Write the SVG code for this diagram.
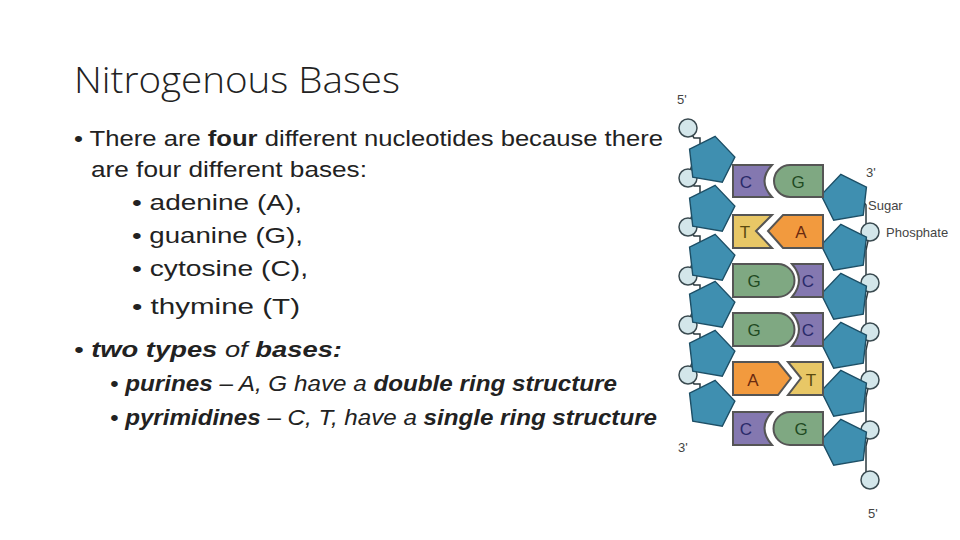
<svg xmlns="http://www.w3.org/2000/svg" width="960" height="540" viewBox="0 0 960 540">
<style>
.t{font-family:"Liberation Sans",Arial,sans-serif;fill:#222;font-size:22px}
.ttl{font-family:"Open Sans","Liberation Sans",sans-serif;font-weight:300;fill:#222;font-size:36px}
.b{font-weight:bold}
.i{font-style:italic}
.sug{fill:#3f8fb0;stroke:#1d4f66;stroke-width:1.4}
.ph{fill:#d3e6ea;stroke:#3a4a50;stroke-width:1.5}
.bb{fill:none;stroke:#2d3a3f;stroke-width:1.5}
.base{stroke:#555;stroke-width:2}
.lb{font-family:"Liberation Sans",Arial,sans-serif;font-size:17px;text-anchor:middle}
.sm{font-family:"Liberation Sans",Arial,sans-serif;font-size:13px;fill:#444}
</style>
<defs>
<polygon id="pent" points="0,-24 23,-7 15,20 -15,20 -23,-7"/>
</defs>
<rect width="960" height="540" fill="#fff"/>
<text class="ttl" x="74" y="93" textLength="326" lengthAdjust="spacingAndGlyphs">Nitrogenous Bases</text>
<text class="t" x="74" y="146" textLength="589" lengthAdjust="spacingAndGlyphs">• There are <tspan class="b">four</tspan> different nucleotides because there</text>
<text class="t" x="91" y="177" textLength="276" lengthAdjust="spacingAndGlyphs">are four different bases:</text>
<text class="t" x="132" y="210" textLength="170" lengthAdjust="spacingAndGlyphs">• adenine (A),</text>
<text class="t" x="132" y="243" textLength="171" lengthAdjust="spacingAndGlyphs">• guanine (G),</text>
<text class="t" x="132" y="276" textLength="176" lengthAdjust="spacingAndGlyphs">• cytosine (C),</text>
<text class="t" x="132" y="314" textLength="168" lengthAdjust="spacingAndGlyphs">• thymine  (T)</text>
<text class="t i" x="74" y="357" textLength="268" lengthAdjust="spacingAndGlyphs">• <tspan class="b">two types</tspan> of <tspan class="b">bases:</tspan></text>
<text class="t i" x="110" y="391" textLength="507" lengthAdjust="spacingAndGlyphs">• <tspan class="b">purines</tspan> – A, G have a <tspan class="b">double ring structure</tspan></text>
<text class="t i" x="110" y="425" textLength="547" lengthAdjust="spacingAndGlyphs">• <tspan class="b">pyrimidines</tspan> – C, T, have a <tspan class="b">single ring structure</tspan></text>

<g id="dna">
<g id="backbone">
<polyline class="bb" points="688,128 694,138 700,138 700,144 688,176 694,186 700,186 700,194 688,226 694,236 700,236 700,242 688,275 694,285 700,285 700,290 688,324 694,334 700,334 700,340 688,374 694,384 700,384 700,390"/>
<polyline class="bb" points="858,196 862,200 866,205 866,232 870,232 866,250 866,283 870,283 866,300 866,332 870,332 866,350 866,380 870,380 866,397 866,430 870,430 866,446 866,478 870,480"/>
</g>
<g id="left-strand">
<circle class="ph" cx="688" cy="128" r="9"/>
<circle class="ph" cx="688" cy="178" r="9"/>
<circle class="ph" cx="688" cy="227" r="9"/>
<circle class="ph" cx="688" cy="276" r="9"/>
<circle class="ph" cx="688" cy="325" r="9"/>
<circle class="ph" cx="688" cy="375" r="9"/>
<use href="#pent" class="sug" transform="translate(711,160) rotate(10)"/>
<use href="#pent" class="sug" transform="translate(711,209) rotate(10)"/>
<use href="#pent" class="sug" transform="translate(711,258) rotate(10)"/>
<use href="#pent" class="sug" transform="translate(711,305) rotate(10)"/>
<use href="#pent" class="sug" transform="translate(711,354) rotate(10)"/>
<use href="#pent" class="sug" transform="translate(711,404) rotate(10)"/>
</g>
<g id="right-strand">
<circle class="ph" cx="870" cy="232" r="9"/>
<circle class="ph" cx="870" cy="283" r="9"/>
<circle class="ph" cx="870" cy="332" r="9"/>
<circle class="ph" cx="870" cy="380" r="9"/>
<circle class="ph" cx="870" cy="430" r="9"/>
<circle class="ph" cx="870" cy="480" r="9"/>
<use href="#pent" class="sug" transform="translate(845,198) rotate(-10)"/>
<use href="#pent" class="sug" transform="translate(845,248) rotate(-10)"/>
<use href="#pent" class="sug" transform="translate(845,297) rotate(-10)"/>
<use href="#pent" class="sug" transform="translate(845,346) rotate(-10)"/>
<use href="#pent" class="sug" transform="translate(845,394) rotate(-10)"/>
<use href="#pent" class="sug" transform="translate(845,443) rotate(-10)"/>
</g>
<g id="pair-CG1">
<path class="base" fill="#8478b0" d="M733,165 H772 Q757,181 772,197 H733 Z"/>
<path class="base" fill="#7fa882" d="M823,165 V197 H790 A16,16 0 0 1 790,165 Z"/>
<text class="lb" x="746" y="188" fill="#2a2a6a">C</text>
<text class="lb" x="798" y="188" fill="#1f4a22">G</text>
</g>
<g id="pair-TA">
<path class="base" fill="#e8c766" d="M733,215 H772 L756,231 L772,248 H733 Z"/>
<path class="base" fill="#f29a3e" d="M823,215 V248 H783 L768,231 L783,215 Z"/>
<text class="lb" x="745" y="238" fill="#5a4a10">T</text>
<text class="lb" x="801" y="238" fill="#6a2a10">A</text>
</g>
<g id="pair-GC1">
<path class="base" fill="#7fa882" d="M733,264 H778 A16,16 0 0 1 778,297 H733 Z"/>
<path class="base" fill="#8478b0" d="M823,264 V297 H792 Q806,280 792,264 Z"/>
<text class="lb" x="754" y="287" fill="#1f4a22">G</text>
<text class="lb" x="808" y="287" fill="#2a2a6a">C</text>
</g>
<g id="pair-GC2">
<path class="base" fill="#7fa882" d="M733,313 H778 A16,16 0 0 1 778,346 H733 Z"/>
<path class="base" fill="#8478b0" d="M823,313 V346 H792 Q806,329 792,313 Z"/>
<text class="lb" x="754" y="336" fill="#1f4a22">G</text>
<text class="lb" x="808" y="336" fill="#2a2a6a">C</text>
</g>
<g id="pair-AT">
<path class="base" fill="#f29a3e" d="M733,362 H778 L791,378 L778,395 H733 Z"/>
<path class="base" fill="#e8c766" d="M823,362 V395 H788 L801,378 L788,362 Z"/>
<text class="lb" x="753" y="386" fill="#6a2a10">A</text>
<text class="lb" x="811" y="386" fill="#5a4a10">T</text>
</g>
<g id="pair-CG2">
<path class="base" fill="#8478b0" d="M733,412 H772 Q757,428 772,445 H733 Z"/>
<path class="base" fill="#7fa882" d="M823,412 V445 H790 A16,16 0 0 1 790,412 Z"/>
<text class="lb" x="746" y="435" fill="#2a2a6a">C</text>
<text class="lb" x="801" y="435" fill="#1f4a22">G</text>
</g>
<text class="sm" x="677" y="104" font-size="18">5'</text>
<text class="sm" x="866" y="177" font-size="18">3'</text>
<text class="sm" x="868" y="210">Sugar</text>
<text class="sm" x="886" y="237">Phosphate</text>
<text class="sm" x="678" y="452" font-size="18">3'</text>
<text class="sm" x="868" y="518" font-size="18">5'</text>
</g>
</svg>
